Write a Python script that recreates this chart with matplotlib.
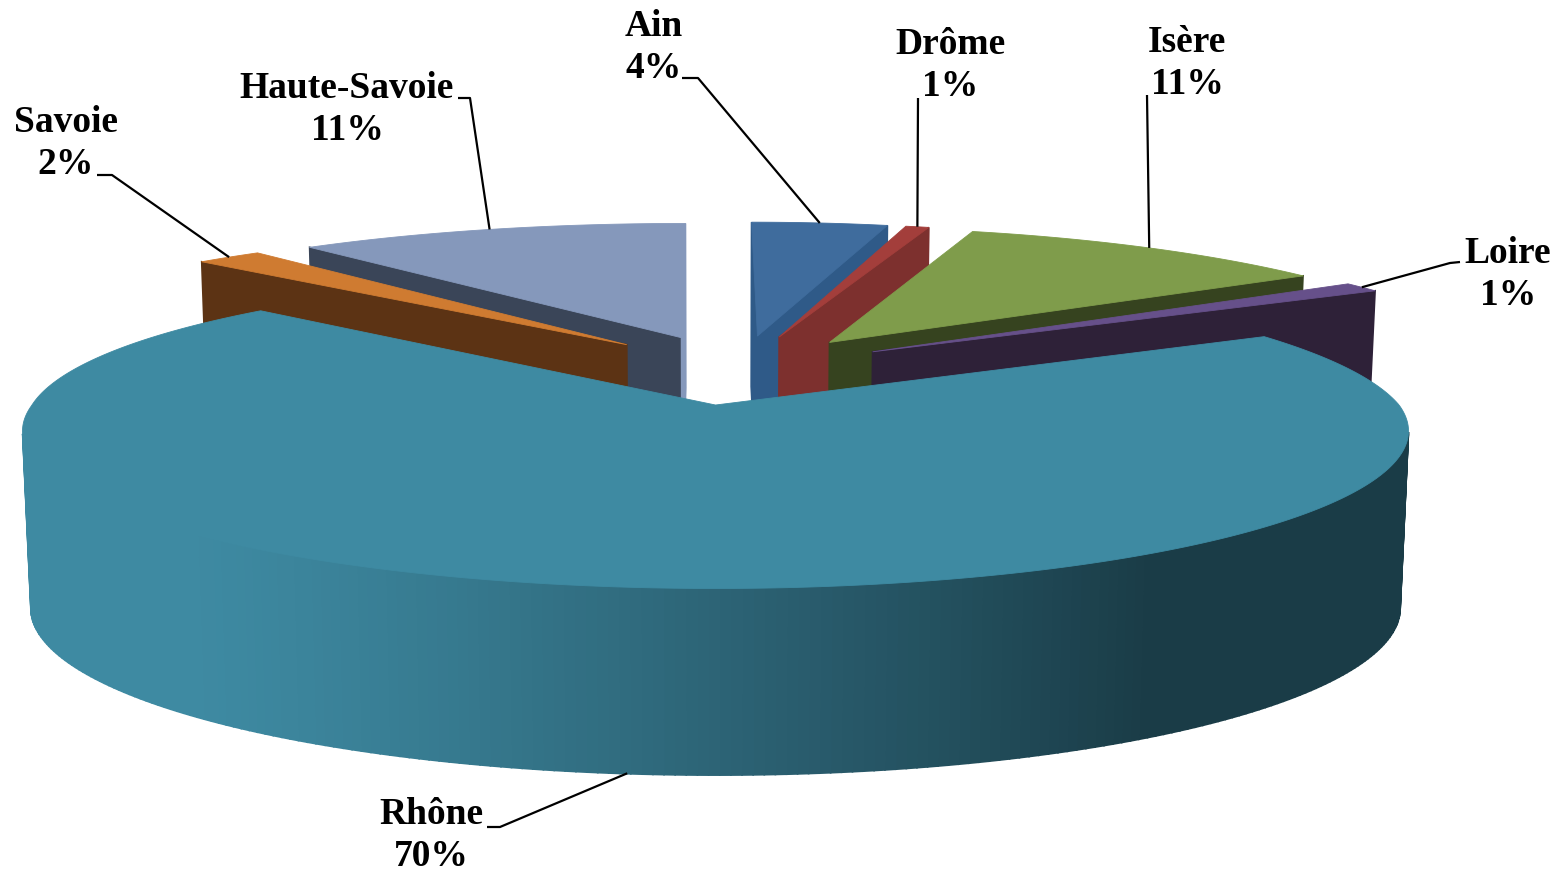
import numpy as np
import matplotlib
matplotlib.use("Agg")
import matplotlib.pyplot as plt
from matplotlib.colors import to_rgb
from matplotlib.patches import Polygon

# ---- data (share of total, clockwise from 12 o'clock) ----
categories = ["Ain", "Drôme", "Isère", "Loire", "Rhône", "Savoie", "Haute-Savoie"]
values = [4.1, 0.7, 11.1, 1.1, 70.0, 1.9, 11.1]
percent_labels = ["4%", "1%", "11%", "1%", "70%", "2%", "11%"]

# ---- styles ----
top_colors = ["#3f6c9d", "#a33e3b", "#7f9c4b", "#66508a", "#3e8aa2", "#cf7b31", "#8598bb"]
wall_colors = ["#2f5a88", "#7d302e", "#36431f", "#2e2138", "#1a3c47", "#5c3314", "#3a4558"]
explode = 0.245
slice_nudge = [3, 2, 1, 3, 0, 0, 0]
draw_order = [0, 1, 2, 3, 6, 5, 4]
label_centers = [(654, 48), (950, 66), (1187, 64), (1508, 275), (431, 836), (66, 144), (347, 110)]
line_gap = 42.5
leader_elbows = [[(682, 78), (698, 78)], [(918, 98)], [(1147, 95)], [(1460, 262), (1450, 263)],
                 [(487, 827), (500, 827)], [(97, 175), (112, 175)], [(458, 98), (470, 98)]]
leader_shift = [0, 0, 0, 0, 13, 0, 0]


def project(X, Y, bottom=False):
    """Perspective projection of pie-plane coordinates on to the picture."""
    Xc = np.asarray(X) + 0.03
    Yc = np.asarray(Y) + 0.243
    w = 1 + 0.165 * Yc
    lean = -16 * np.abs(Xc) * np.clip(Yc / w, 0, None)
    if bottom:
        return 716 + 683.5 * 0.988 * Xc / w + lean, 580.5 - 162.5 * Yc / w
    return 716 + 683.5 * Xc / w + lean, 405 - 153.2 * Yc / w


def signed_area(xs, ys):
    return 0.5 * np.sum(xs * np.roll(ys, -1) - np.roll(xs, -1) * ys)


fig = plt.figure(figsize=(15.62, 8.76), dpi=100)
ax = fig.add_axes([0, 0, 1, 1])
ax.set_xlim(0, 1562)
ax.set_ylim(876, 0)
ax.axis("off")

fractions = np.array(values) / np.sum(values)
edges = np.concatenate([[0], np.cumsum(fractions)]) * 2 * np.pi
mids = (edges[:-1] + edges[1:]) / 2


def slice_outline(i, n=320):
    ox, oy = explode * np.sin(mids[i]), explode * np.cos(mids[i])
    th = np.linspace(edges[i], edges[i + 1], n)
    X = np.concatenate([[ox], ox + np.sin(th)])
    Y = np.concatenate([[oy], oy + np.cos(th)])
    return X, Y


def rim_shade(x, c_top, c_wall):
    t = np.clip((x - 190) / (1150 - 190), 0, 1) ** 1.2
    return tuple((1 - t) * np.array(to_rgb(c_top)) + t * np.array(to_rgb(c_wall)))


for i in draw_order:
    X, Y = slice_outline(i)
    tx, ty = project(X, Y)
    bx, by = project(X, Y, bottom=True)
    tx = tx + slice_nudge[i]
    bx = bx + slice_nudge[i]
    n = len(X)
    zo = draw_order.index(i) * 10 + 1
    for j in range(n):
        k = (j + 1) % n
        qx = np.array([tx[j], tx[k], bx[k], bx[j]])
        qy = np.array([ty[j], ty[k], by[k], by[j]])
        if signed_area(qx, qy) >= 0:  # faces away from the viewer
            continue
        if i == 4:
            col = rim_shade(qx.mean(), top_colors[4], wall_colors[4])
        elif i == 6 and j == n - 1:
            col = top_colors[6]
        else:
            col = wall_colors[i]
        ax.add_patch(Polygon(np.c_[qx, qy], closed=True, fc=col, ec=col, lw=1.2, zorder=zo))
    ax.add_patch(Polygon(np.c_[tx, ty], closed=True, fc=top_colors[i], ec=top_colors[i],
                         lw=0.6, zorder=zo + 1))

for i, name in enumerate(categories):
    cx, cy = label_centers[i]
    for txt, yy in ((name, cy - line_gap / 2), (percent_labels[i], cy + line_gap / 2)):
        ax.text(cx, yy + 9, txt, ha="center", va="baseline",
                family="Liberation Serif", weight="bold", fontsize=27,
                color="black", zorder=200)
    ex = explode * np.sin(mids[i]) + np.sin(mids[i])
    ey = explode * np.cos(mids[i]) + np.cos(mids[i])
    px, py = project(ex, ey, bottom=(name == "Rhône"))
    pts = leader_elbows[i] + [(float(px) + leader_shift[i] + slice_nudge[i], float(py))]
    ax.plot([p[0] for p in pts], [p[1] for p in pts], color="black", lw=1.6, zorder=100,
            solid_capstyle="butt")

fig.savefig("out.png", dpi=100)
